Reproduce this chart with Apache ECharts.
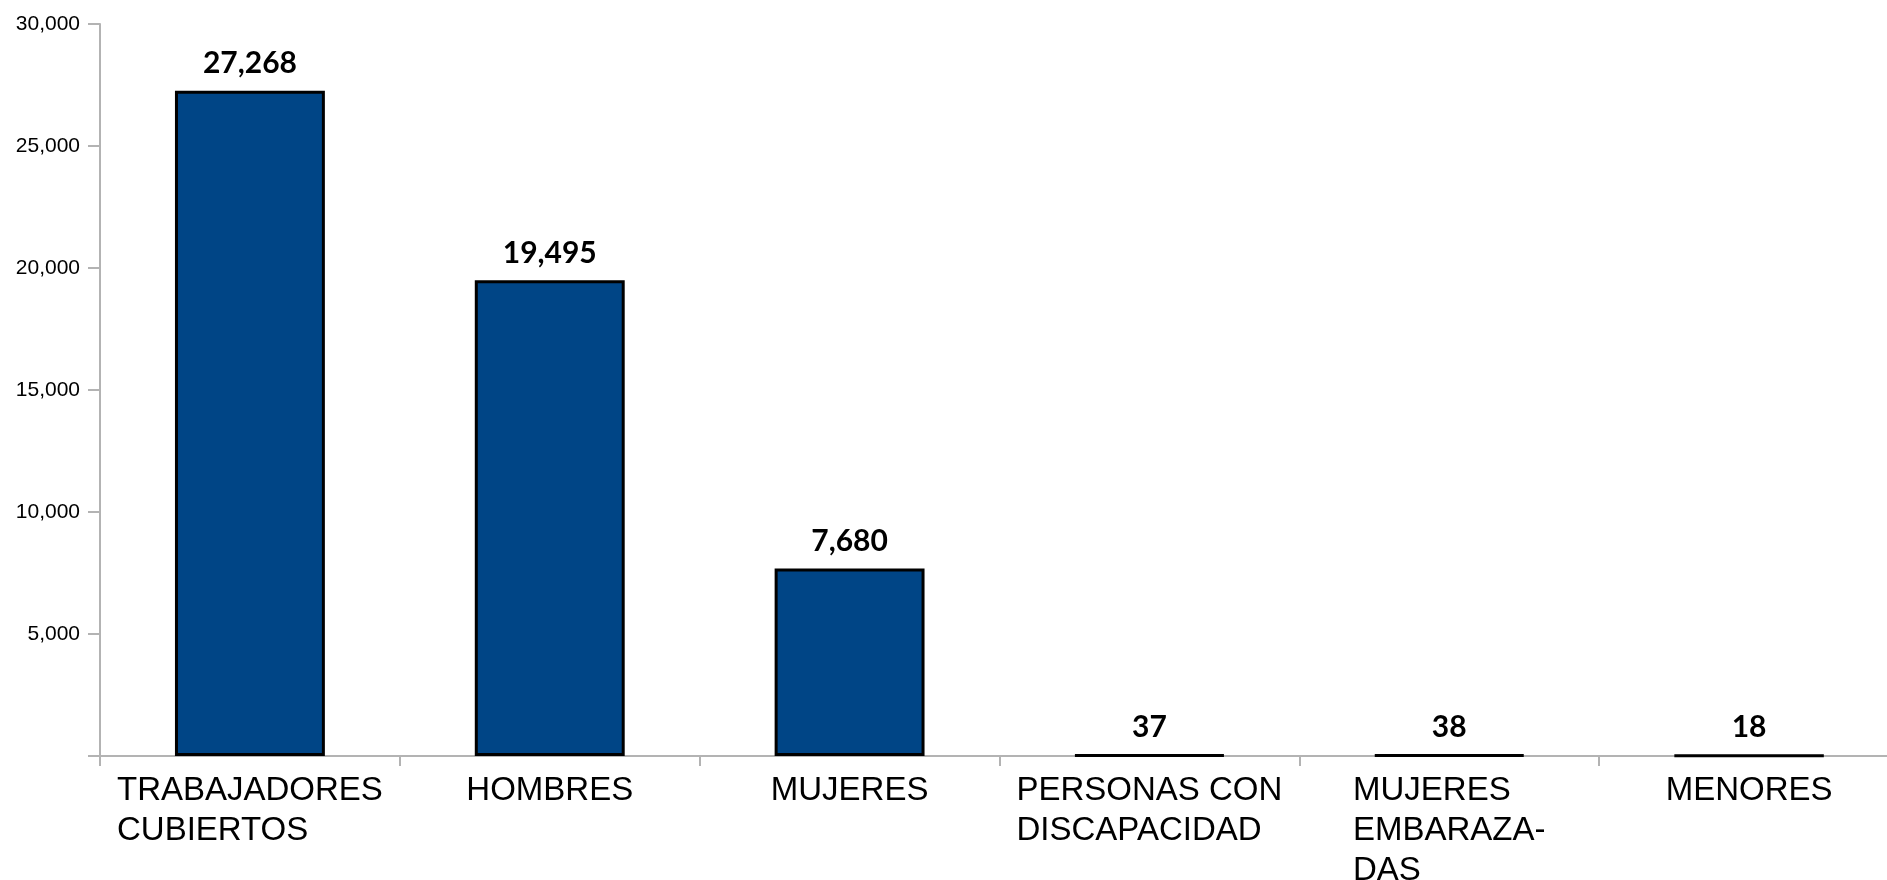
<!DOCTYPE html>
<html>
<head>
<meta charset="utf-8">
<script src="https://cdn.jsdelivr.net/npm/echarts@6/dist/echarts.min.js"></script>
<style>
  html, body { margin: 0; padding: 0; background: #fff; }
  #chart { width: 1887px; height: 880px; }
</style>
</head>
<body>
<div id="chart"></div>
<script>
// categorías y valores
const categorias = [
  'TRABAJADORES\nCUBIERTOS',
  'HOMBRES',
  'MUJERES',
  'PERSONAS CON\nDISCAPACIDAD',
  'MUJERES\nEMBARAZA-\nDAS',
  'MENORES'
]
const valores = [27268, 19495, 7680, 37, 38, 18]

const ejeMin = 0
const ejeMax = 30000
const ejeIntervalo = 5000

const chart = echarts.init(document.getElementById('chart'))

chart.setOption({
  backgroundColor: '#ffffff',
  animation: false,
  // sin ajuste automático: las etiquetas pueden salirse del lienzo como en el original
  grid: { left: 100, top: 24, bottom: 124, right: -12, outerBoundsMode: 'none', containLabel: false },
  xAxis: {
    type: 'category',
    data: categorias,
    axisLine: { lineStyle: { color: '#b3b3b3', width: 2 } },
    axisTick: { show: true, interval: 0, length: 10, lineStyle: { color: '#b3b3b3', width: 2 } },
    axisLabel: {
      margin: 15,
      interval: 0,
      formatter: v => v.split('\n').map(l => '{a|' + l + '}').join('\n'),
      rich: {
        a: {
          fontFamily: 'Liberation Sans',
          fontSize: 33,
          lineHeight: 40,
          color: '#000',
          align: 'left'
        }
      }
    }
  },
  yAxis: {
    type: 'value',
    min: ejeMin,
    max: ejeMax,
    interval: ejeIntervalo,
    splitLine: { show: false },
    axisLine: { show: true, lineStyle: { color: '#b3b3b3', width: 2 } },
    axisTick: { show: true, length: 12, lineStyle: { color: '#b3b3b3', width: 2 } },
    axisLabel: {
      margin: 20,
      fontFamily: 'Liberation Sans',
      fontSize: 21,
      color: '#000',
      formatter: v => v === 0 ? '' : v.toLocaleString('en-US')
    }
  },
  series: [{
    type: 'bar',
    data: valores,
    barWidth: '50%',
    itemStyle: {
      color: '#004586',
      borderColor: '#000',
      borderWidth: 3
    },
    label: {
      show: true,
      position: 'top',
      distance: 12,
      fontFamily: 'Lato',
      fontWeight: 'bold',
      fontSize: 30,
      color: '#000',
      formatter: p => p.value.toLocaleString('en-US')
    }
  }]
})
</script>
</body>
</html>
